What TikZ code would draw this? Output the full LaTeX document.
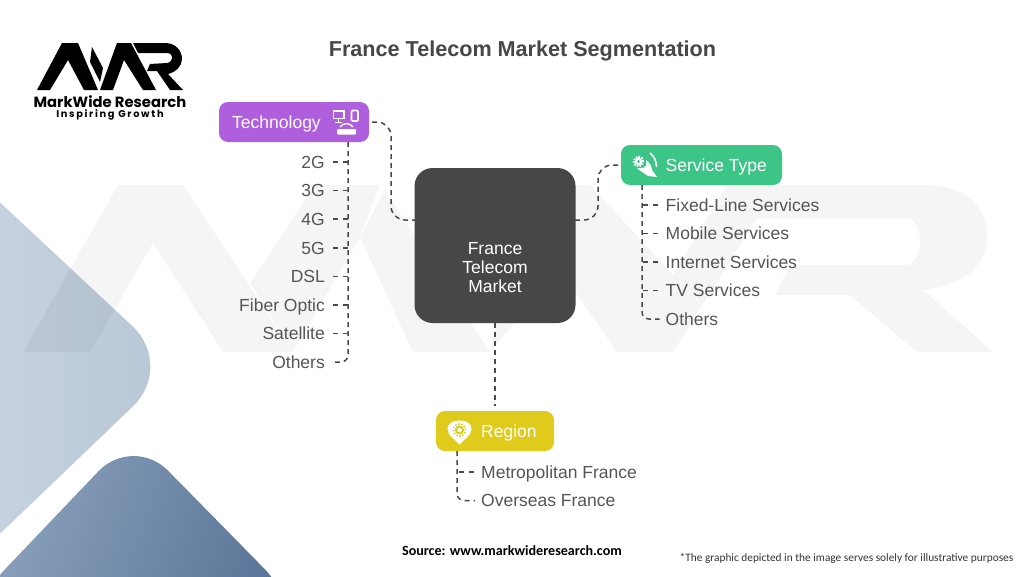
\documentclass[tikz,border=0pt]{standalone}
\usepackage{fontspec}
\setmainfont{Liberation Sans}
\newfontfamily\logofont{Poppins}
\newfontfamily\notefont{Carlito}
\usepackage{xcolor}
\definecolor{inkgray}{HTML}{555555}
\definecolor{linkgray}{HTML}{4A4A4A}
\definecolor{coregray}{HTML}{474747}
\definecolor{techpurple}{HTML}{AF5FDD}
\definecolor{servgreen}{HTML}{3DC487}
\definecolor{regyellow}{HTML}{E0CB1C}
\definecolor{paleA}{HTML}{C9D4E0}
\definecolor{paleB}{HTML}{B7C6D6}
\definecolor{deepA}{HTML}{8EA4BF}
\definecolor{deepB}{HTML}{5A7598}
\usetikzlibrary{arrows.meta}

\begin{document}
\begin{tikzpicture}[
        x=1pt,y=-1pt,
        catbox/.style = {rectangle, rounded corners=9pt, minimum height=40pt, inner sep=0pt, outer sep=0pt},
        plaintext/.style = {inner sep=0pt, text height=16pt, text depth=4pt, font=\fontsize{17.5}{19}\selectfont},
        catlabel/.style = {plaintext, anchor=west, text=white},
        leafl/.style = {plaintext, anchor=east, text=inkgray},
        leafr/.style = {plaintext, anchor=west, text=inkgray},
        linkdash/.style = {draw=linkgray, line width=1.5pt, dash pattern=on 5pt off 4pt},
        twig/.style = {draw=linkgray, line width=1.5pt, dash pattern=on 5pt off 5pt},
        ghost/.style = {fill=black, fill opacity=0.04},
    ]
    \useasboundingbox (0,0) rectangle (1024,576);
    \fill[white] (0,0) rectangle (1024,576);
    % background shapes
    \begin{scope}
        \clip (0,0) rectangle (1024,576);
        \shade[left color=paleA, right color=paleB, rounded corners=58pt] (-40,165) -- (175,366) -- (-40,572) -- cycle;
        \shade[left color=deepA, right color=deepB, shading angle=70, rounded corners=50pt] (-30,606) -- (133,435) -- (300,605) -- cycle;
        % watermark
        \fill[ghost] (23,352) -- (118,185) -- (183,185) -- (293,352) -- (223,352) -- (153,243) -- (90,352) -- cycle;
        \fill[ghost] (250,283) -- (315,185) -- (380,185) -- (360,237) -- (293,352) -- cycle;
        \fill[ghost] (385,190) -- (490,352) -- (413,352) -- (360,237) -- cycle;
        \fill[ghost] (490,352) -- (530,185) -- (590,185) -- (673,275) -- (727,185) -- (745,185) -- (725,218) -- (757,218) -- (673,352) -- (617,352) -- (560,270) -- cycle;
        \fill[ghost] (745,185) -- (923,185) .. controls (965,185) and (987,205) .. (987,237) .. controls (987,265) and (965,285) .. (923,290) -- (993,352) -- (917,352) -- (850,295) -- (775,295) -- (790,265) -- (905,265) .. controls (925,265) and (925,218) .. (905,218) -- (725,218) -- cycle;
    \end{scope}
    % logo
    \fill[black] (37,90) -- (62,43) -- (78,43) -- (98,90) -- (84,90) -- (68,60) -- (50,90) -- cycle;
    \fill[black] (92,47) -- (103,68) -- (100,82) -- (90,62) -- cycle;
    \fill[black] (100,90) -- (117,43) -- (131,43) -- (156,90) -- (143,90) -- (124,60) -- (113,90) -- cycle;
    \fill[black] (133,43) -- (165,43) .. controls (176,43) and (182,51) .. (182,59) .. controls (182,66) and (176,72) .. (168,74) -- (183,90) -- (170,90) -- (157,71) -- (147,71) -- (150,64) -- (167,63) .. controls (174,62) and (174,53) .. (167,53) -- (138,53) -- cycle;
    \node[inner sep=0pt, font=\logofont\bfseries\fontsize{14.8}{16}\selectfont] (brand) at (110,102) {MarkWide Research};
    \node[inner sep=0pt, font=\logofont\bfseries\fontsize{9.8}{12}\selectfont\addfontfeature{LetterSpace=17}] (slogan) at (110,115) {Inspiring Growth};
    % title
    \node[inner sep=0pt, text height=16pt, text depth=4pt, text=coregray, font=\bfseries\fontsize{21.6}{24}\selectfont] (title) at (522.5,50.5) {France Telecom Market Segmentation};
    % center
    \node[rectangle, fill=coregray, rounded corners=18pt, minimum width=161pt, minimum height=155pt, inner sep=0pt, outer sep=0pt] (core) at (495,245.5) {};
    \node[inner sep=0pt, align=center, text=white, font=\fontsize{17.5}{19}\selectfont] (coretext) at (495,267.5) {France\\Telecom\\Market};
    % Technology
    \node[catbox, fill=techpurple, minimum width=150pt] (tech) at (294,122) {};
    \node[catlabel] (techlabel) at (232,122) {Technology};
    \coordinate (techspine) at (348,142);
    \coordinate (techin) at (415,220);
    \draw[linkdash, rounded corners=14pt] (tech.east) ++(3,0) -- ++(19,0) -- ++(0,98) -- (techin);
    \node[leafl] (twog) at (325,162) {2G};
    \node[leafl] (threeg) at (325,190.5) {3G};
    \node[leafl] (fourg) at (325,219) {4G};
    \node[leafl] (fiveg) at (325,248) {5G};
    \node[leafl] (dsl) at (325,276.5) {DSL};
    \node[leafl] (fiber) at (325,305) {Fiber Optic};
    \node[leafl] (satellite) at (325,333.5) {Satellite};
    \node[leafl] (othersl) at (325,362) {Others};
    \draw[linkdash, rounded corners=7pt] (techspine) |- ([xshift=6pt]othersl.east);
    \draw[twig, shorten <=8pt] (twog.east) -- (twog.east -| techspine);
    \draw[twig, shorten <=8pt] (threeg.east) -- (threeg.east -| techspine);
    \draw[twig, shorten <=8pt] (fourg.east) -- (fourg.east -| techspine);
    \draw[twig, shorten <=8pt] (fiveg.east) -- (fiveg.east -| techspine);
    \draw[twig, shorten <=8pt] (dsl.east) -- (dsl.east -| techspine);
    \draw[twig, shorten <=8pt] (fiber.east) -- (fiber.east -| techspine);
    \draw[twig, shorten <=8pt] (satellite.east) -- (satellite.east -| techspine);
    % Technology icon
    \draw[white, line width=1.6pt] (333.5,111) rectangle (344,118.5);
    \draw[white, line width=1.4pt] (338.7,118.5) -- (338.7,122) (335,122.5) -- (342,122.5);
    \draw[white, line width=1.6pt, rounded corners=1pt] (351.5,110.5) rectangle (358,121);
    \draw[white, line width=1.3pt] (340,127) .. controls (343,122.5) and (350,122.5) .. (353,127);
    \fill[white, rounded corners=1pt] (337,129) rectangle (356,134.5);
    % Service Type
    \node[catbox, fill=servgreen, minimum width=161pt] (serv) at (701.5,165) {};
    \node[catlabel] (servlabel) at (665.5,165) {Service Type};
    \coordinate (servspine) at (642,185);
    \coordinate (servout) at (575,220);
    \draw[linkdash, rounded corners=14pt] (servout) -- ++(23,0) -- ++(0,-55) -- (serv.west);
    \node[leafr] (fixed) at (665.5,205) {Fixed-Line Services};
    \node[leafr] (mobile) at (665.5,233.5) {Mobile Services};
    \node[leafr] (internet) at (665.5,262) {Internet Services};
    \node[leafr] (tv) at (665.5,290.5) {TV Services};
    \node[leafr] (othersr) at (665.5,319) {Others};
    \draw[linkdash, rounded corners=7pt] (servspine) |- ([xshift=-6pt]othersr.west);
    \draw[twig, shorten <=7.5pt] (fixed.west) -- (fixed.west -| servspine);
    \draw[twig, shorten <=7.5pt] (mobile.west) -- (mobile.west -| servspine);
    \draw[twig, shorten <=7.5pt] (internet.west) -- (internet.west -| servspine);
    \draw[twig, shorten <=7.5pt] (tv.west) -- (tv.west -| servspine);
    % Service Type icon
    \fill[white] (646,160) .. controls (650,163) and (652,167) .. (652,170) -- (657,177) -- (648,176) -- (637,168.5) -- (644,167.5) .. controls (647,166) and (647,163) .. (646,160) -- cycle;
    \draw[white, line width=1.5pt] (650,153) .. controls (654,156) and (656.5,161) .. (656.5,167);
    \draw[white, line width=2.5pt, dash pattern=on 1.5pt off 1.2pt] (638.5,161.5) circle (4.5pt);
    \fill[white] (638.5,161.5) circle (3.8pt);
    \fill[servgreen] (638.5,161.5) circle (1.5pt);
    % Region
    \node[catbox, fill=regyellow, minimum width=118pt] (regn) at (495,431) {};
    \node[catlabel] (regnlabel) at (481,431) {Region};
    \coordinate (regnspine) at (457,451);
    \draw[linkdash, shorten >=5pt] (core.south) -- (regn.north);
    \node[leafr] (metro) at (481,472) {Metropolitan France};
    \node[leafr] (overseas) at (481,500.5) {Overseas France};
    \draw[linkdash, rounded corners=7pt] (regnspine) |- ([xshift=-6pt]overseas.west);
    \draw[twig, shorten <=7.5pt] (metro.west) -- (metro.west -| regnspine);
    % Region icon
    \fill[white] (459.5,444.5) .. controls (455,439) and (447.5,436) .. (447.5,429) .. controls (447.5,423) and (453,420.5) .. (459.5,420.5) .. controls (466,420.5) and (471.5,423) .. (471.5,429) .. controls (471.5,436) and (464,439) .. (459.5,444.5) -- cycle;
    \draw[regyellow, line width=2pt] (459.5,430) circle (3.5pt);
    \draw[regyellow, line width=1.5pt, dash pattern=on 1.5pt off 1.6pt] (459.5,430) circle (6pt);
    % footer
    \node[inner sep=0pt, text=black, font=\notefont\bfseries\fontsize{14.1}{16}\selectfont] (source) at (512,551) {Source: www.markwideresearch.com};
    \node[inner sep=0pt, text=black!80, font=\notefont\fontsize{11.35}{14}\selectfont] (note) at (846.5,558) {*The graphic depicted in the image serves solely for illustrative purposes};
\end{tikzpicture}
\end{document}
